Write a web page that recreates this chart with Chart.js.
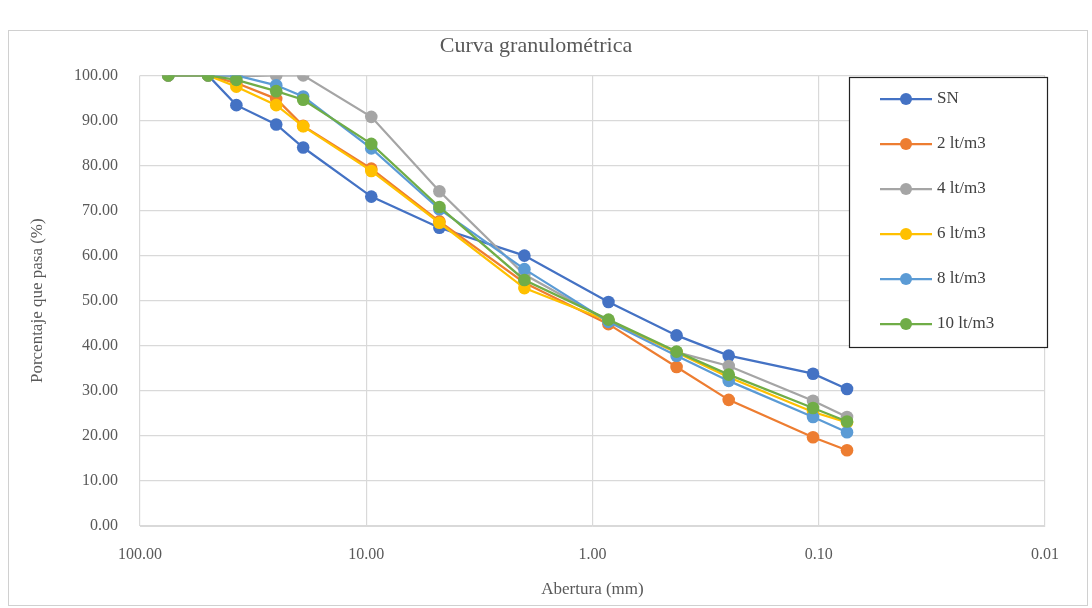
<!DOCTYPE html>
<html>
<head>
<meta charset="utf-8">
<script src="https://cdn.jsdelivr.net/npm/chart.js@4.4.1/dist/chart.umd.min.js"></script>
<style>
  html, body { margin: 0; padding: 0; background: #fff; }
  #wrap { position: absolute; left: 0; top: 0; width: 1092px; height: 608px; }
</style>
</head>
<body>
<div id="wrap"><canvas id="grafico"></canvas></div>
<script>
// abertura de tamices (mm)
var aberturas = [75, 50, 37.5, 25, 19, 9.5, 4.75, 2.0, 0.85, 0.425, 0.25, 0.106, 0.075];

// porcentaje que pasa (%)
var serieSN   = [100, 100, 93.4, 89.1, 84.0, 73.1, 66.2, 60.0, 49.7, 42.3, 37.8, 33.8, 30.4];
var serie2lt  = [100, 100, 98.3, 94.8, 88.8, 79.3, 67.6, 54.0, 44.8, 35.3, 28.0, 19.7, 16.8];
var serie4lt  = [100, 100, 99.8, 100, 100, 90.8, 74.3, 55.8, 45.5, 38.6, 35.5, 27.8, 24.2];
var serie6lt  = [100, 100, 97.5, 93.4, 88.7, 78.8, 67.3, 52.8, 45.5, 38.5, 33.0, 25.3, 23.0];
var serie8lt  = [100, 100, 100, 97.8, 95.3, 83.8, 70.3, 57.0, 45.3, 37.8, 32.2, 24.2, 20.8];
var serie10lt = [100, 100, 99.0, 96.5, 94.6, 84.8, 70.8, 54.6, 45.8, 38.7, 33.6, 26.2, 23.2];

var nombres = ["SN", "2 lt/m3", "4 lt/m3", "6 lt/m3", "8 lt/m3", "10 lt/m3"];
var colores = ["#4472C4", "#ED7D31", "#A5A5A5", "#FFC000", "#5B9BD5", "#70AD47"];
var series = [serieSN, serie2lt, serie4lt, serie6lt, serie8lt, serie10lt];

var xTicks = [100, 10, 1, 0.1, 0.01];
var xTickLabels = ["100.00", "10.00", "1.00", "0.10", "0.01"];

var fuente = "'Liberation Serif', 'Times New Roman', serif";
var gris = "#595959";

var datasets = [];
for (var i = 0; i < series.length; i++) {
	var pts = [];
	for (var j = 0; j < aberturas.length; j++) pts.push({x: aberturas[j], y: series[i][j]});
	datasets.push({
		label: nombres[i],
		data: pts,
		order: series.length - i, // como en Excel: la ultima serie queda encima
		borderColor: colores[i],
		backgroundColor: colores[i],
		borderWidth: 2.25,
		pointRadius: 6.3,
		pointHoverRadius: 6.3,
		pointBorderWidth: 0,
		tension: 0
	});
}

// marco exterior del grafico
var marco = {
	id: "marco",
	beforeDraw: function(chart) {
		var ctx = chart.ctx;
		ctx.save();
		ctx.strokeStyle = "#d0d0d0";
		ctx.lineWidth = 1;
		ctx.strokeRect(8.5, 30.5, 1079, 575);
		ctx.restore();
	}
};

// leyenda con recuadro dentro del area de trazado
var leyenda = {
	id: "leyenda",
	afterDraw: function(chart) {
		var ctx = chart.ctx;
		ctx.save();
		ctx.fillStyle = "#fff";
		ctx.fillRect(849, 77, 198, 270);
		ctx.strokeStyle = "#222";
		ctx.lineWidth = 1.2;
		ctx.strokeRect(849.5, 77.5, 198, 270);
		ctx.font = "17px " + fuente;
		ctx.textBaseline = "middle";
		for (var k = 0; k < nombres.length; k++) {
			var y = 99 + k * 45;
			ctx.strokeStyle = colores[k];
			ctx.lineWidth = 2.25;
			ctx.beginPath();
			ctx.moveTo(880, y);
			ctx.lineTo(932, y);
			ctx.stroke();
			ctx.fillStyle = colores[k];
			ctx.beginPath();
			ctx.arc(906, y, 6, 0, Math.PI * 2);
			ctx.fill();
			ctx.fillStyle = "#404040";
			ctx.fillText(nombres[k], 937, y);
		}
		ctx.restore();
	}
};

var ctx = document.getElementById("grafico").getContext("2d");
var grafico = new Chart(ctx, {
	type: "line",
	data: { datasets: datasets },
	plugins: [marco, leyenda],
	options: {
		responsive: true,
		maintainAspectRatio: false,
		animation: false,
		layout: { padding: { left: 27, right: 47, top: 31, bottom: 8 } },
		plugins: {
			legend: { display: false },
			tooltip: { enabled: false },
			title: {
				display: true,
				text: "Curva granulométrica",
				color: gris,
				font: { family: fuente, size: 22, weight: "normal" },
				padding: { top: 2, bottom: 16 }
			}
		},
		scales: {
			x: {
				type: "logarithmic",
				reverse: true,
				min: 0.01,
				max: 100,
				afterBuildTicks: function(scale) {
					scale.ticks = xTicks.map(function(v) { return {value: v}; });
				},
				afterFit: function(scale) { scale.height = 74; },
				grid: { color: "#d9d9d9", lineWidth: 1.2, drawTicks: false },
				border: { color: "#d9d9d9" },
				ticks: {
					color: gris,
					font: { family: fuente, size: 16 },
					padding: 19,
					maxRotation: 0,
					autoSkip: false,
					callback: function(v) {
						var idx = xTicks.indexOf(v);
						return idx >= 0 ? xTickLabels[idx] : "";
					}
				},
				title: {
					display: true,
					text: "Abertura (mm)",
					color: gris,
					font: { family: fuente, size: 17 },
					padding: { top: 15, bottom: 0 }
				}
			},
			y: {
				min: 0,
				max: 100,
				afterFit: function(scale) { scale.width = 113; },
				grid: { color: "#d9d9d9", lineWidth: 1.2, drawTicks: false },
				border: { display: false },
				ticks: {
					stepSize: 10,
					color: gris,
					font: { family: fuente, size: 16 },
					padding: 22,
					callback: function(v) { return v.toFixed(2); }
				},
				title: {
					display: true,
					text: "Porcentaje que pasa (%)",
					color: gris,
					font: { family: fuente, size: 17 },
					padding: { top: 0, bottom: 0 }
				}
			}
		}
	}
});
</script>
</body>
</html>
